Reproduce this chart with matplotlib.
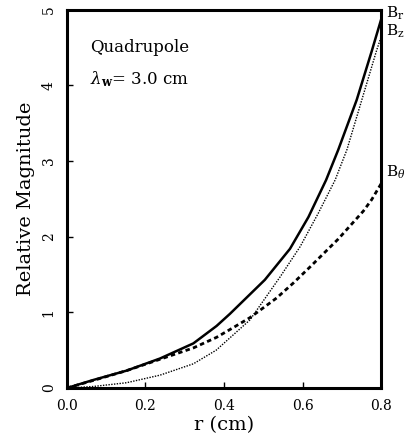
import numpy as np
import matplotlib
matplotlib.use("Agg")
import matplotlib.pyplot as plt

plt.rcParams['font.family'] = 'DejaVu Serif'
plt.rcParams['mathtext.fontset'] = 'dejavuserif'

# values, one r list per curve
r_br = [0.0, 0.067, 0.152, 0.237, 0.322, 0.381, 0.415, 0.504, 0.568, 0.615, 0.660, 0.691, 0.738, 0.776, 0.8]
b_r = [0.0, 0.106, 0.23, 0.39, 0.59, 0.82, 0.98, 1.43, 1.84, 2.26, 2.75, 3.15, 3.81, 4.45, 4.87]

r_bz = [0.0, 0.067, 0.152, 0.237, 0.322, 0.38, 0.466, 0.543, 0.594, 0.640, 0.683, 0.713, 0.751, 0.789, 0.8]
b_z = [0.0, 0.02, 0.07, 0.17, 0.32, 0.50, 0.90, 1.47, 1.87, 2.31, 2.75, 3.15, 3.81, 4.47, 4.64]

r_bt = [0.0, 0.067, 0.152, 0.237, 0.322, 0.381, 0.424, 0.466, 0.487, 0.534, 0.577, 0.619, 0.691, 0.755, 0.776, 0.8]
b_theta = [0.0, 0.10, 0.23, 0.38, 0.53, 0.67, 0.80, 0.93, 1.01, 1.19, 1.39, 1.60, 1.97, 2.34, 2.49, 2.70]

xticks = [0.0, 0.2, 0.4, 0.6, 0.8]
yticks = [0, 1, 2, 3, 4, 5]

fig = plt.figure(figsize=(4.08, 4.46), dpi=100)
ax = fig.add_axes([0.164, 0.130, 0.770, 0.848])

ax.plot(r_br, b_r, color='black', lw=1.8)
ax.plot(r_bz, b_z, color='black', lw=1.0, linestyle=(0, (1, 1)))
ax.plot(r_bt, b_theta, color='black', lw=2.0, linestyle=(0, (1.6, 1.2)))

ax.set_xlim(0, 0.8)
ax.set_ylim(0, 5)
ax.set_xticks(xticks)
ax.set_xticklabels(['%.1f' % t for t in xticks], fontsize=10)
ax.set_yticks(yticks)
ax.set_yticklabels([str(t) for t in yticks], fontsize=10, rotation=90, va='center')
ax.tick_params(direction='in', length=4, width=1, pad=8)
for s in ax.spines.values():
    s.set_linewidth(2.2)

ax.set_xlabel('r (cm)', fontsize=14, labelpad=2)
ax.set_ylabel('Relative Magnitude', fontsize=14, labelpad=5)

ax.text(0.058, 4.5, 'Quadrupole', fontsize=12, va='center')
ax.text(0.058, 4.08, r'$\lambda_{\mathbf{w}}$= 3.0 cm', fontsize=12, va='center')

ax.text(0.812, 4.95, r'B$_\mathrm{r}$', fontsize=11, va='center', clip_on=False)
ax.text(0.812, 4.71, r'B$_\mathrm{z}$', fontsize=11, va='center', clip_on=False)
ax.text(0.812, 2.85, r'B$_\theta$', fontsize=11, va='center', clip_on=False)

fig.savefig('out.png', dpi=100)
